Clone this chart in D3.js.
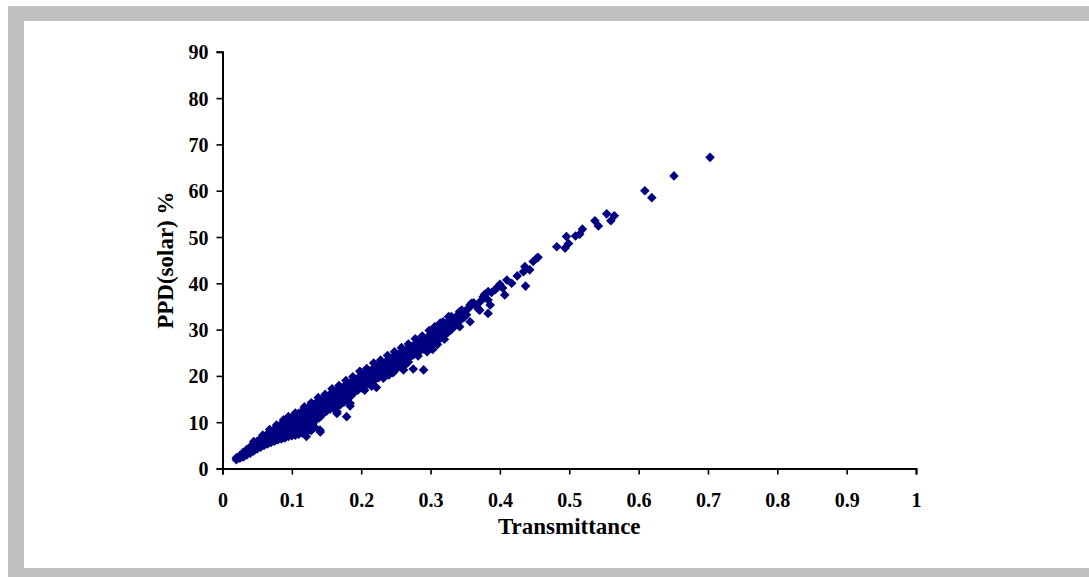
<!DOCTYPE html>
<html>
<head>
<meta charset="utf-8">
<script src="https://cdn.jsdelivr.net/npm/d3@7"></script>
<style>
  html, body { margin: 0; padding: 0; background: #ffffff; }
  svg { display: block; }
</style>
</head>
<body>
<svg id="chart" width="1089" height="577"></svg>
<script>
// ---- data ----
const xTicks = [0, 0.1, 0.2, 0.3, 0.4, 0.5, 0.6, 0.7, 0.8, 0.9, 1];
const yTicks = [0, 10, 20, 30, 40, 50, 60, 70, 80, 90];
const xTitle = "Transmittance";
const yTitle = "PPD(solar) %";

// dense band: [transmittance, PPD(solar) %]
const bandPoints = [
  [0.020,1.9],[0.020,2.3],
  [0.025,2.2],[0.025,2.8],
  [0.030,2.5],[0.030,3.1],[0.030,3.5],
  [0.035,2.9],[0.035,3.6],[0.035,4.1],
  [0.040,3.3],[0.040,4.0],[0.040,4.7],
  [0.045,3.8],[0.045,4.6],[0.045,5.3],
  [0.050,4.2],[0.050,5.0],[0.050,5.9],
  [0.055,4.6],[0.055,5.5],[0.055,6.4],
  [0.060,5.0],[0.060,5.9],[0.060,6.9],
  [0.065,5.3],[0.065,6.2],[0.065,7.0],[0.065,7.5],
  [0.070,5.6],[0.070,6.6],[0.070,7.4],[0.070,8.0],
  [0.075,5.9],[0.075,6.9],[0.075,7.8],[0.075,8.5],
  [0.080,6.2],[0.080,7.1],[0.080,8.1],[0.080,9.1],
  [0.085,6.4],[0.085,7.4],[0.085,8.5],[0.085,9.6],
  [0.090,6.6],[0.090,7.6],[0.090,8.7],[0.090,9.6],[0.090,10.1],
  [0.095,6.9],[0.095,7.9],[0.095,9.0],[0.095,10.0],[0.095,10.5],
  [0.100,7.1],[0.100,8.1],[0.100,9.2],[0.100,10.2],[0.100,11.0],
  [0.105,7.2],[0.105,8.3],[0.105,9.5],[0.105,10.6],[0.105,11.5],
  [0.110,7.4],[0.110,8.5],[0.110,9.8],[0.110,10.9],[0.110,11.9],
  [0.115,7.7],[0.115,8.8],[0.115,10.1],[0.115,11.3],[0.115,12.4],
  [0.120,7.9],[0.120,9.1],[0.120,10.4],[0.120,11.7],[0.120,12.8],
  [0.125,8.4],[0.125,9.6],[0.125,10.8],[0.125,12.1],[0.125,13.3],
  [0.130,9.4],[0.130,10.6],[0.130,11.7],[0.130,12.8],[0.130,13.7],
  [0.135,10.5],[0.135,11.6],[0.135,12.9],[0.135,14.2],
  [0.140,11.0],[0.140,12.2],[0.140,13.4],[0.140,14.6],
  [0.145,11.8],[0.145,12.9],[0.145,14.0],[0.145,15.1],
  [0.150,12.4],[0.150,13.5],[0.150,14.5],[0.150,15.5],
  [0.155,12.8],[0.155,13.9],[0.155,15.0],[0.155,16.0],
  [0.160,13.0],[0.160,14.2],[0.160,15.3],[0.160,16.4],
  [0.165,13.4],[0.165,14.6],[0.165,15.8],[0.165,16.9],
  [0.170,13.8],[0.170,15.0],[0.170,16.2],[0.170,17.3],
  [0.175,14.3],[0.175,15.5],[0.175,16.7],[0.175,17.7],
  [0.180,14.8],[0.180,16.0],[0.180,17.2],[0.180,18.2],
  [0.185,15.6],[0.185,16.6],[0.185,17.6],[0.185,18.6],
  [0.190,16.4],[0.190,17.3],[0.190,18.2],[0.190,19.1],
  [0.195,16.9],[0.195,17.8],[0.195,18.7],[0.195,19.5],
  [0.200,17.4],[0.200,18.3],[0.200,19.1],[0.200,19.9],
  [0.205,17.8],[0.205,18.7],[0.205,19.6],[0.205,20.4],
  [0.210,18.3],[0.210,19.1],[0.210,20.0],[0.210,20.8],
  [0.215,18.7],[0.215,19.6],[0.215,20.5],[0.215,21.3],
  [0.220,19.2],[0.220,20.1],[0.220,20.9],[0.220,21.7],
  [0.225,19.6],[0.225,20.5],[0.225,21.3],[0.225,22.1],
  [0.230,20.0],[0.230,20.9],[0.230,21.8],[0.230,22.6],
  [0.235,20.5],[0.235,21.5],[0.235,22.3],[0.235,23.0],
  [0.240,21.0],[0.240,22.0],[0.240,22.7],[0.240,23.4],
  [0.245,21.5],[0.245,22.4],[0.245,23.1],[0.245,23.9],
  [0.250,22.0],[0.250,22.9],[0.250,23.6],[0.250,24.3],
  [0.255,22.5],[0.255,23.4],[0.255,24.1],[0.255,24.8],
  [0.260,23.0],[0.260,23.9],[0.260,24.5],[0.260,25.2],
  [0.265,23.5],[0.265,24.3],[0.265,25.0],[0.265,25.6],
  [0.270,24.0],[0.270,24.8],[0.270,25.4],[0.270,26.0],
  [0.275,24.5],[0.275,25.3],[0.275,25.9],[0.275,26.5],
  [0.280,25.0],[0.280,25.8],[0.280,26.4],[0.280,26.9],
  [0.285,25.4],[0.285,26.2],[0.285,26.8],[0.285,27.4],
  [0.290,25.8],[0.290,26.7],[0.290,27.3],[0.290,27.8],
  [0.295,26.2],[0.295,27.1],[0.295,27.7],[0.295,28.3],
  [0.300,26.6],[0.300,27.6],[0.300,28.2],[0.300,28.7],
  [0.305,27.1],[0.305,28.0],[0.305,29.1],
  [0.310,27.6],[0.310,28.6],[0.310,29.6],
  [0.315,28.2],[0.315,29.1],[0.315,30.0],
  [0.320,28.8],[0.320,29.6],[0.320,30.4],
  [0.325,29.4],[0.325,30.2],[0.325,30.9],
  [0.330,30.0],[0.330,30.7],[0.330,31.3],
  [0.335,31.8],[0.340,32.0],[0.345,33.3],[0.348,32.6],[0.350,34.0],[0.352,33.2]
];

// ragged upper edge of the band
const upperEdgePoints = [
  [0.045,5.8],[0.058,7.2],[0.068,8.4],[0.078,9.4],[0.088,10.5],
  [0.095,11.2],[0.105,12.0],[0.118,13.3],[0.128,14.2],[0.138,15.3],
  [0.148,16.0],[0.158,17.2],[0.168,17.9],[0.178,19.0],[0.188,19.8],
  [0.198,21.0],[0.208,21.6],[0.218,22.8],[0.228,23.4],[0.238,24.4],
  [0.248,25.2],[0.258,26.1],[0.268,26.9],[0.278,28.0],[0.288,28.6],
  [0.298,29.8],[0.308,30.4],[0.318,31.4],[0.328,32.2],[0.338,33.0]
];

// ragged lower edge of the band
const lowerEdgePoints = [
  [0.205,16.9],[0.215,17.8],[0.232,19.5],[0.240,20.2],[0.250,21.4],
  [0.258,22.2],[0.265,22.6],[0.268,23.0],[0.282,24.3],[0.295,25.2],
  [0.310,26.8],[0.320,27.9]
];

// scattered points away from the band
const outlierPoints = [
  [0.121,6.9],[0.128,8.2],[0.133,8.9],[0.1406,8.3],[0.141,7.9],
  [0.165,12.3],[0.165,11.9],[0.179,11.2],[0.184,13.5],[0.184,14.1],
  [0.222,17.5],[0.246,20.7],[0.261,21.3],[0.275,21.5],[0.290,21.3],
  [0.303,25.7],[0.314,28.8],[0.342,30.6],
  [0.306,30.6],[0.314,31.4],[0.318,31.7],[0.326,32.8],[0.330,32.8],
  [0.332,31.9],[0.336,30.9],[0.344,32.2],[0.355,34.6],[0.362,35.8],
  [0.366,35.0],[0.372,36.1],[0.378,37.6],[0.388,38.0],[0.400,39.8],
  [0.404,39.0],[0.425,41.6],
  [0.338,32.4],[0.342,33.9],[0.345,34.2],[0.357,31.7],[0.359,35.7],
  [0.357,35.3],[0.369,34.4],[0.371,34.2],[0.376,37.1],[0.383,36.4],
  [0.383,38.2],[0.386,35.3],[0.383,33.5],[0.393,38.6],[0.395,38.9],
  [0.398,39.3],[0.407,37.5],[0.410,40.7],[0.417,40.0],[0.434,42.5],
  [0.436,43.6],[0.443,42.9],[0.437,39.4],[0.448,44.7],[0.453,45.4],
  [0.455,45.6],[0.482,47.9],[0.494,47.6],[0.496,50.1],[0.499,48.6],
  [0.509,50.2],[0.515,50.6],[0.519,51.7],[0.537,53.5],[0.542,52.4],
  [0.554,55.0],[0.560,53.5],[0.565,54.6],[0.609,60.0],[0.619,58.5],
  [0.651,63.2],[0.703,67.2]
];

// ---- drawing ----
const W = 1089, H = 577;
const svg = d3.select("#chart");
const FONT = "'Liberation Serif', 'Times New Roman', serif";

// outer grey frame
svg.append("rect").attr("x", 8).attr("y", 6).attr("width", W - 8).attr("height", H - 6)
  .attr("fill", "#c0c0c0");
svg.append("rect").attr("x", 24).attr("y", 21).attr("width", W - 24).attr("height", 568 - 21)
  .attr("fill", "#ffffff");

const x = d3.scaleLinear().domain([0, 1]).range([222.5, 916]);
const y = d3.scaleLinear().domain([0, 90]).range([468.5, 51.8]);

// points
const r = 4.8;
const diamond = `M0,${-r}L${r},0L0,${r}L${-r},0Z`;
const allPts = bandPoints.concat(upperEdgePoints, lowerEdgePoints, outlierPoints);
svg.append("g").selectAll("path").data(allPts).join("path")
  .attr("d", diamond)
  .attr("transform", d => `translate(${x(d[0])},${y(d[1])})`)
  .attr("fill", "#000080");

// axes
const xAxis = svg.append("g").attr("transform", `translate(0,${y(0)})`)
  .call(d3.axisBottom(x).tickValues(xTicks).tickFormat(d3.format("")).tickSizeOuter(0).tickSize(6).tickPadding(18));
const yAxis = svg.append("g").attr("transform", `translate(${x(0)},0)`)
  .call(d3.axisLeft(y).tickValues(yTicks).tickFormat(d3.format("")).tickSizeOuter(0).tickSize(6).tickPadding(8));

[xAxis, yAxis].forEach(g => {
  g.select(".domain").attr("stroke", "#000").attr("stroke-width", 2);
  g.selectAll(".tick line").attr("stroke", "#000").attr("stroke-width", 1.6);
  g.selectAll(".tick text").attr("fill", "#000")
    .style("font-family", FONT).style("font-weight", "bold").style("font-size", "20px");
});
yAxis.selectAll(".tick text").attr("dy", "0.35em");

// titles
svg.append("text").attr("x", (x(0) + x(1)) / 2).attr("y", 534)
  .attr("text-anchor", "middle")
  .style("font-family", FONT).style("font-weight", "bold").style("font-size", "23px")
  .text(xTitle);
svg.append("text").attr("transform", `translate(173,${(y(0) + y(90)) / 2}) rotate(-90)`)
  .attr("text-anchor", "middle")
  .style("font-family", FONT).style("font-weight", "bold").style("font-size", "23px")
  .text(yTitle);
</script>
</body>
</html>
